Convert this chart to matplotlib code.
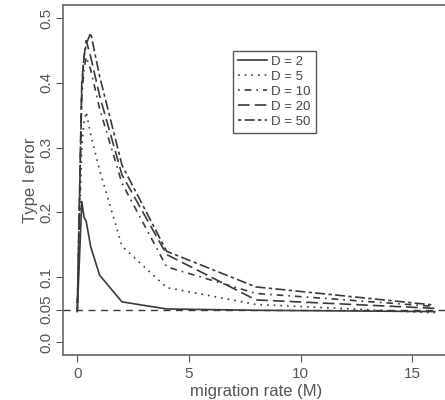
import matplotlib
matplotlib.use("Agg")
import matplotlib.pyplot as plt

plt.rcParams['font.family'] = ['Liberation Sans', 'DejaVu Sans']

# migration rate grid and type I error per D
M = [0, 0.2, 0.3, 0.4, 0.6, 1, 2, 4, 8, 16]
d2 = [0.047, 0.217, 0.193, 0.186, 0.147, 0.103, 0.062, 0.051, 0.049, 0.047]
d5 = [0.05, 0.30, 0.34, 0.355, 0.32, 0.265, 0.148, 0.084, 0.058, 0.045]
d10 = [0.05, 0.38, 0.42, 0.44, 0.42, 0.36, 0.245, 0.116, 0.075, 0.055]
d20 = [0.05, 0.40, 0.44, 0.465, 0.44, 0.38, 0.258, 0.135, 0.065, 0.052]
d50 = [0.05, 0.39, 0.44, 0.46, 0.477, 0.41, 0.273, 0.14, 0.085, 0.057]

labels = ["D = 2", "D = 5", "D = 10", "D = 20", "D = 50"]
styles = ['-', (0, (1, 3)), (0, (1, 3, 4, 3)), (0, (7, 3)), (0, (2, 2, 6, 2))]
col = '#3a3a3a'

fig = plt.figure(figsize=(4.45, 4.0), dpi=100)
ax = fig.add_axes([63/445, 1-355/400, 386/445, 350/400])

for y, lab, ls in zip([d2, d5, d10, d20, d50], labels, styles):
    ax.plot(M, y, color=col, linestyle=ls, linewidth=1.2, label=lab)

ax.axhline(0.05, color=col, linestyle=(0, (5, 4)), linewidth=1.0)

ax.set_xlim(-0.64, 16.64)
ax.set_ylim(-0.02, 0.52)
ax.set_xticks([0, 5, 10, 15])
ax.set_yticks([0.0, 0.05, 0.1, 0.2, 0.3, 0.4, 0.5])
ax.set_yticklabels(["0.0", "0.05", "0.1", "0.2", "0.3", "0.4", "0.5"], rotation=90, va='center')
ax.tick_params(direction='out', length=5, color='#555555', labelcolor='#555555', labelsize=11)
ax.tick_params(axis='y', pad=2)
for s in ax.spines.values():
    s.set_color('#666666')
    s.set_linewidth(1.2)

ax.set_xlabel("migration rate (M)", fontsize=12, color='#555555', labelpad=2)
ax.set_ylabel("Type I error", fontsize=12, color='#555555', labelpad=1)

leg = ax.legend(loc='upper left', bbox_to_anchor=((226-63)/386, 1-(44-5)/350),
                fontsize=9.5, handlelength=2.2, handletextpad=0.3, labelspacing=0.2,
                borderpad=0.4, fancybox=False, framealpha=1, labelcolor='#444444')
leg.get_frame().set_edgecolor('#555555')
leg.get_frame().set_linewidth(1.0)

fig.savefig("out.png", dpi=100)
